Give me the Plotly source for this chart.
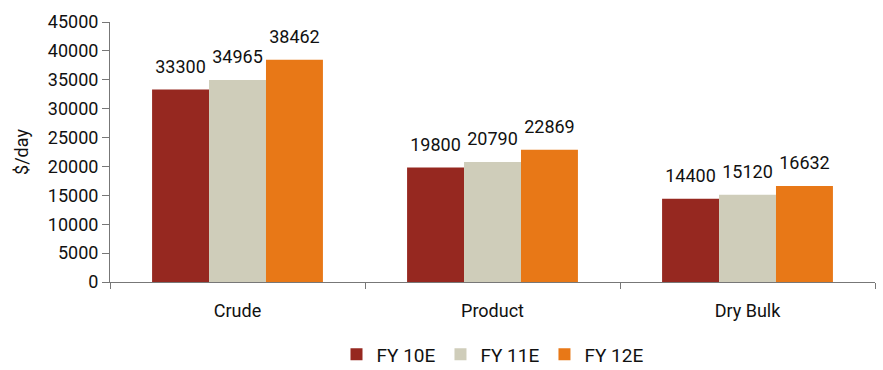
import plotly.graph_objects as go

categories = ["Crude", "Product", "Dry Bulk"]
series_names = ["FY 10E", "FY 11E", "FY 12E"]
fy10 = [33300, 19800, 14400]
fy11 = [34965, 20790, 15120]
fy12 = [38462, 22869, 16632]
colors = ["#962820", "#CFCDBA", "#E87817"]
y_ticks = list(range(0, 45001, 5000))
y_tick_text = [str(v) for v in y_ticks]

FONT = "Roboto, sans-serif"

fig = go.Figure()
for name, vals, c in zip(series_names, [fy10, fy11, fy12], colors):
    fig.add_trace(go.Bar(
        x=categories, y=vals, name=name, marker_color=c, marker_line_width=0,
        text=[f"<span style='font-size:18px'>{v}</span><br> " for v in vals],
        textposition="outside",
        textfont=dict(size=9, color="#111111", family=FONT), cliponaxis=False,
    ))

fig.update_layout(
    width=883, height=370,
    margin=dict(l=110, r=8, t=22, b=88, autoexpand=False),
    barmode="group", bargap=0.33, bargroupgap=0,
    plot_bgcolor="white", paper_bgcolor="white",
    font=dict(family=FONT, size=18, color="#111111"),
    showlegend=True,
    legend=dict(orientation="h", x=0.5, xanchor="center", y=-0.205, yanchor="top",
                font=dict(size=19, family=FONT), traceorder="normal"),
)
fig.update_xaxes(showline=True, linecolor="#777777", linewidth=1,
                 ticks="outside", tickson="boundaries", ticklen=6, tickcolor="#777777",
                 ticklabelstandoff=12,
                 tickfont=dict(size=18, family=FONT))
fig.update_yaxes(range=[0, 45000], tickvals=y_ticks, ticktext=y_tick_text,
                 showgrid=False, zeroline=False,
                 showline=True, linecolor="#777777", linewidth=1,
                 ticks="outside", ticklen=7, tickcolor="#777777",
                 title=dict(text="$/day", font=dict(size=18, family=FONT), standoff=14),
                 tickfont=dict(size=18, family=FONT))

fig.write_html("out.html")
